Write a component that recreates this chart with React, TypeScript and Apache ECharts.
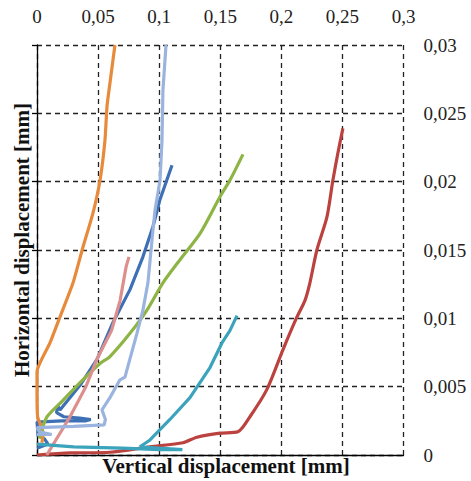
import React, { useEffect, useRef } from "react";
import * as echarts from "echarts";

const xTicks = [0, 0.05, 0.1, 0.15, 0.2, 0.25, 0.3];
const yTicks = [0, 0.005, 0.01, 0.015, 0.02, 0.025, 0.03];
const xTitle = "Vertical displacement [mm]";
const yTitle = "Horizontal displacement [mm]";

// [vertical displacement, horizontal displacement]
const redData: number[][] = [
  [0, 0], [0.027, 0.00015], [0.0597, 0.0002], [0.0925, 0.0006], [0.1195, 0.0009],
  [0.1309, 0.0013], [0.1498, 0.0016], [0.1645, 0.0017], [0.1743, 0.0028],
  [0.1882, 0.0048], [0.2013, 0.0077], [0.2128, 0.0101], [0.2193, 0.0113],
  [0.2234, 0.0126], [0.2291, 0.015], [0.2373, 0.0174], [0.2422, 0.0201],
  [0.2463, 0.0221], [0.2504, 0.0239],
];
const darkBlueData: number[][] = [
  [0.0, 0.0005], [0.009, 0.0008], [0.006, 0.0012], [0.001, 0.0014], [0.0, 0.0024],
  [0.02, 0.0025], [0.04, 0.0025], [0.044, 0.0026], [0.035, 0.0027], [0.022, 0.0028],
  [0.016, 0.0031], [0.017, 0.0036], [0.0188, 0.0033], [0.0352, 0.0051],
  [0.0491, 0.007], [0.0622, 0.0097], [0.0761, 0.0121], [0.0867, 0.0145],
  [0.0949, 0.0167], [0.1007, 0.0187], [0.1105, 0.0212],
];
const orangeData: number[][] = [
  [0.004, 0.0009], [0.005, 0.0016], [0.003, 0.0022], [0.0005, 0.0028], [0, 0.0045],
  [0, 0.00607], [0.0106, 0.0082], [0.0188, 0.0101], [0.0295, 0.0126],
  [0.0376, 0.0152], [0.0458, 0.0177], [0.0516, 0.0201], [0.0556, 0.023],
  [0.0573, 0.0255], [0.0597, 0.0272], [0.0638, 0.03],
];
const pinkData: number[][] = [
  [0.008, 0], [0.027, 0.0028], [0.04, 0.005], [0.049, 0.007], [0.061, 0.0091],
  [0.068, 0.0113], [0.073, 0.0138], [0.0753, 0.0145],
];
const greenData: number[][] = [
  [0.002, 0.0012], [0.0038, 0.0018], [0.0082, 0.0028], [0.0213, 0.004],
  [0.0352, 0.0053], [0.0516, 0.0067], [0.0597, 0.0072], [0.0761, 0.0089],
  [0.09, 0.0106], [0.1031, 0.0126], [0.118, 0.0144], [0.1334, 0.0162],
  [0.1498, 0.0189], [0.1579, 0.0201], [0.1686, 0.022],
];
const lightBlueData: number[][] = [
  [0, 0.0015], [0.012, 0.0015], [0.002, 0.0017], [0, 0.002], [0.03, 0.0021],
  [0.055, 0.0022], [0.056, 0.0026], [0.0532, 0.0033], [0.0597, 0.0042],
  [0.0679, 0.0055], [0.072, 0.0057], [0.0818, 0.0089], [0.0867, 0.0106],
  [0.0908, 0.0126], [0.0941, 0.0157], [0.0966, 0.0179], [0.1007, 0.0201],
  [0.1023, 0.023], [0.1031, 0.0267], [0.1056, 0.03],
];
const tealData: number[][] = [
  [0, 0.0008], [0.03, 0.0006], [0.07, 0.0005], [0.1, 0.0004], [0.119, 0.0004],
  [0.1, 0.0005], [0.0843, 0.0006], [0.0925, 0.0011], [0.1088, 0.0026],
  [0.1252, 0.0042], [0.1416, 0.0064], [0.1514, 0.0082], [0.1579, 0.0091],
  [0.1637, 0.0102],
];

const seriesDefs: { name: string; data: number[][]; color: string; smooth: number }[] = [
  { name: "red", data: redData, color: "#BC423F", smooth: 0.25 },
  { name: "darkblue", data: darkBlueData, color: "#3E70B5", smooth: 0 },
  { name: "orange", data: orangeData, color: "#E88A3C", smooth: 0.2 },
  { name: "green", data: greenData, color: "#8DB445", smooth: 0.25 },
  { name: "pink", data: pinkData, color: "#DD8F8D", smooth: 0 },
  { name: "lightblue", data: lightBlueData, color: "#9AB4DF", smooth: 0 },
  { name: "teal", data: tealData, color: "#3CA3BC", smooth: 0 },
];

const FONT = "'Liberation Serif', 'Times New Roman', serif";
const fmt = (v: number) => String(v).replace(".", ",");

export default function App() {
  const ref = useRef<HTMLDivElement>(null);
  useEffect(() => {
    if (!ref.current) return;
    const chart = echarts.init(ref.current, undefined, { renderer: "svg" });
    const dashed = { show: true, lineStyle: { color: "#222", width: 1.3, type: [5, 4] as any } };
    chart.setOption({
      animation: false,
      backgroundColor: "#fff",
      grid: { left: 37, right: 67.5, top: 45, bottom: 26, containLabel: false },
      xAxis: [
        {
          type: "value", min: xTicks[0], max: xTicks[xTicks.length - 1], interval: 0.05,
          position: "bottom",
          axisLine: { show: true, onZero: false, lineStyle: { color: "#000", width: 1.3 } },
          axisTick: { show: false },
          axisLabel: { show: false },
          splitLine: dashed,
        },
        {
          type: "value", min: xTicks[0], max: xTicks[xTicks.length - 1], interval: 0.05,
          position: "top",
          axisLine: { show: false },
          axisTick: { show: false },
          splitLine: { show: false },
          axisLabel: { show: true, margin: 19, color: "#222", fontFamily: FONT, fontSize: 19, formatter: fmt },
        },
      ],
      yAxis: [
        {
          type: "value", min: yTicks[0], max: yTicks[yTicks.length - 1], interval: 0.005,
          position: "left",
          axisLine: { show: true, onZero: false, lineStyle: { color: "#000", width: 1.3 } },
          axisTick: { show: true, inside: false, length: 5, lineStyle: { color: "#000", width: 1.3 } },
          axisLabel: { show: false },
          splitLine: dashed,
        },
        {
          type: "value", min: yTicks[0], max: yTicks[yTicks.length - 1], interval: 0.005,
          position: "right",
          axisLine: { show: false },
          axisTick: { show: false },
          splitLine: { show: false },
          axisLabel: { show: true, margin: 20, color: "#222", fontFamily: FONT, fontSize: 19, formatter: fmt },
        },
      ],
      series: seriesDefs.map((s) => ({
        name: s.name,
        type: "line",
        data: s.data,
        showSymbol: false,
        symbol: "none",
        lineStyle: { color: s.color, width: 3.2 },
        itemStyle: { color: s.color },
        xAxisIndex: 0,
        yAxisIndex: 0,
        smooth: s.smooth,
      })),
      graphic: [
        {
          type: "text", x: 226, y: 466,
          style: { text: xTitle, font: `bold 21px ${FONT}`, fill: "#111", align: "center", verticalAlign: "middle" },
        },
        {
          type: "text", x: 22, y: 240, rotation: Math.PI / 2,
          style: { text: yTitle, font: `bold 21px ${FONT}`, fill: "#111", align: "center", verticalAlign: "middle" },
        },
      ],
    });
    return () => chart.dispose();
  }, []);
  return (
    <div
      ref={ref}
      style={{ position: "fixed", left: 0, top: 0, width: 471, height: 481, background: "#fff" }}
    />
  );
}
